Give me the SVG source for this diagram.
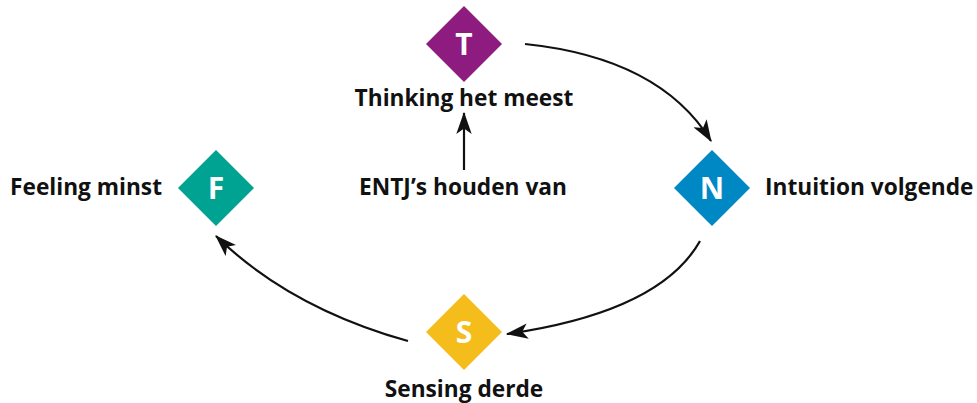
<svg xmlns="http://www.w3.org/2000/svg" width="977" height="403" viewBox="0 0 977 403">
<style>
.lbl{font-family:"Open Sans","Noto Sans","Liberation Sans",sans-serif;font-weight:bold;font-size:22.7px;fill:#111}
.let{font-family:"Open Sans","Noto Sans","Liberation Sans",sans-serif;font-weight:bold;font-size:30px;fill:#fff;text-anchor:middle}
.con{fill:none;stroke:#111;stroke-width:2.2}
</style>
<defs>
<marker id="ah" viewBox="0 0 20 14" refX="19" refY="7" markerWidth="10" markerHeight="7" markerUnits="strokeWidth" orient="auto">
<path d="M0,0 L20,7 L0,14 L5,7 Z" fill="#111"/>
</marker>
</defs>
<rect width="977" height="403" fill="#fff"/>
<g id="connectors">
<path class="con" d="M525,44 Q660,58 711,141" marker-end="url(#ah)"/>
<path class="con" d="M700,241 Q660,312 507,334" marker-end="url(#ah)"/>
<path class="con" d="M408,341 Q290,308 216,236" marker-end="url(#ah)"/>
<path class="con" d="M464,170 L464,113" marker-end="url(#ah)"/>
</g>
<g id="node-T">
<polygon points="464,6 502,44 464,82 426,44" fill="#8E1B7F"/>
<text class="let" x="464" y="55">T</text>
<text class="lbl" x="464" y="106" text-anchor="middle">Thinking het meest</text>
</g>
<g id="node-N">
<polygon points="712,150 750,188 712,226 674,188" fill="#0088C4"/>
<text class="let" x="712" y="199">N</text>
<text class="lbl" x="765" y="195">Intuition volgende</text>
</g>
<g id="node-F">
<polygon points="216,150 254,188 216,226 178,188" fill="#00A391"/>
<text class="let" x="216" y="199">F</text>
<text class="lbl" x="162" y="195" text-anchor="end">Feeling minst</text>
</g>
<g id="node-S">
<polygon points="464,294 502,332 464,370 426,332" fill="#F4BD1B"/>
<text class="let" x="464" y="343">S</text>
<text class="lbl" x="464" y="397" text-anchor="middle">Sensing derde</text>
</g>
<g id="node-ENTJ">
<text class="lbl" x="463" y="195" text-anchor="middle">ENTJ’s houden van</text>
</g>
</svg>
